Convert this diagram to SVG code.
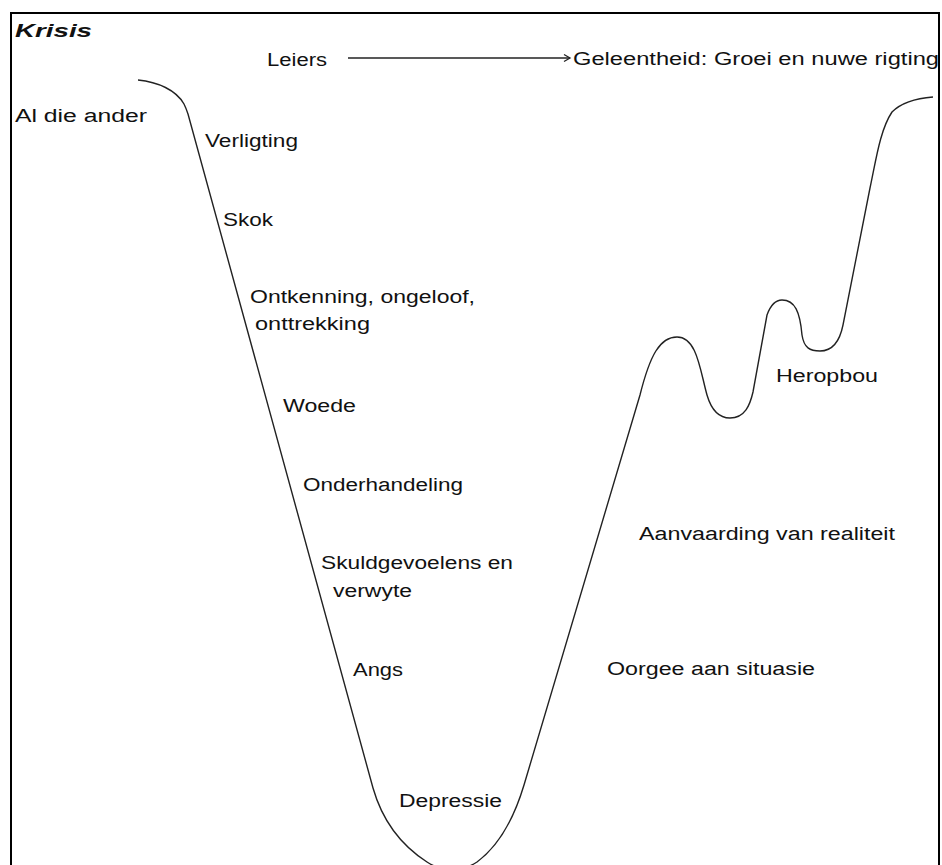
<svg xmlns="http://www.w3.org/2000/svg" width="942" height="865" viewBox="0 0 942 865">
<style>
text{font-family:"Liberation Sans",Arial,sans-serif;font-size:18px;fill:#111}
.curve{fill:none;stroke:#222;stroke-width:1.4}
.frame{fill:none;stroke:#000;stroke-width:2}
.conn{fill:none;stroke:#222;stroke-width:1.3}
</style>
<defs>
<marker id="arr" markerWidth="10" markerHeight="10" refX="8" refY="5" orient="auto" markerUnits="userSpaceOnUse">
<path d="M2,1.5 L8,5 L2,8.5" fill="none" stroke="#222" stroke-width="1.3"/>
</marker>
</defs>
<rect width="942" height="865" fill="#fff"/>
<path class="frame" d="M11,870 L11,13 L939,13 L939,870"/>
<path class="curve" d="M138,80 C158,82 176,90 184,104 C186,108 187,111 188,114 L373,788 C381,816 396,842 427,862 Q452,878 477,862 C500,845 515,815 524,785 L640,395 C650,355 660,337 677,337 C697,337 700,370 707,395 C712,412 720,418 730,418 C745,418 750,405 753,392 L767,315 C771,304 776,300 782,300 C795,300 800,312 802,335 C804,348 810,351 820,351 C833,351 840,340 843,325 L870,188 C876,160 880,130 892,112 C902,102 920,98 933,97"/>
<g id="connectors">
<line class="conn" x1="348" y1="58" x2="570" y2="58" marker-end="url(#arr)"/>
</g>
<g id="krisis"><text x="15" y="37" font-size="21" font-style="italic" font-weight="bold" textLength="77" lengthAdjust="spacingAndGlyphs">Krisis</text></g>
<g id="leiers"><text x="267" y="66" textLength="60" lengthAdjust="spacingAndGlyphs">Leiers</text></g>
<g id="geleentheid"><text x="573" y="65" textLength="366" lengthAdjust="spacingAndGlyphs">Geleentheid: Groei en nuwe rigting</text></g>
<g id="al-die-ander"><text x="15" y="122" textLength="132" lengthAdjust="spacingAndGlyphs">Al die ander</text></g>
<g id="verligting"><text x="205" y="147" textLength="93" lengthAdjust="spacingAndGlyphs">Verligting</text></g>
<g id="skok"><text x="223" y="226" textLength="50" lengthAdjust="spacingAndGlyphs">Skok</text></g>
<g id="ontkenning">
<text x="250" y="303" textLength="225" lengthAdjust="spacingAndGlyphs">Ontkenning, ongeloof,</text>
<text x="255" y="330" textLength="115" lengthAdjust="spacingAndGlyphs">onttrekking</text>
</g>
<g id="woede"><text x="283" y="412" textLength="73" lengthAdjust="spacingAndGlyphs">Woede</text></g>
<g id="onderhandeling"><text x="303" y="491" textLength="160" lengthAdjust="spacingAndGlyphs">Onderhandeling</text></g>
<g id="skuldgevoelens">
<text x="321" y="569" textLength="192" lengthAdjust="spacingAndGlyphs">Skuldgevoelens en</text>
<text x="333" y="597" textLength="79" lengthAdjust="spacingAndGlyphs">verwyte</text>
</g>
<g id="angs"><text x="353" y="676" textLength="50" lengthAdjust="spacingAndGlyphs">Angs</text></g>
<g id="depressie"><text x="399" y="807" textLength="103" lengthAdjust="spacingAndGlyphs">Depressie</text></g>
<g id="heropbou"><text x="776" y="382" textLength="102" lengthAdjust="spacingAndGlyphs">Heropbou</text></g>
<g id="aanvaarding"><text x="639" y="540" textLength="256" lengthAdjust="spacingAndGlyphs">Aanvaarding van realiteit</text></g>
<g id="oorgee"><text x="607" y="675" textLength="208" lengthAdjust="spacingAndGlyphs">Oorgee aan situasie</text></g>
</svg>
